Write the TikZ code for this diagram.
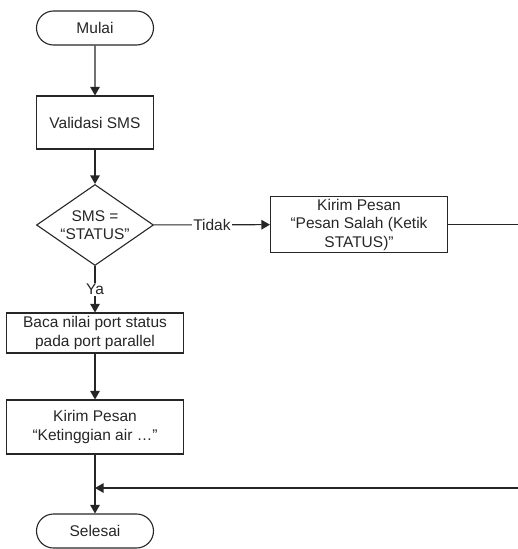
\documentclass[tikz,border=0pt]{standalone}
\usepackage{fontspec}
\setmainfont{Liberation Sans}
\usetikzlibrary{arrows.meta,shapes.geometric,shapes.misc}
\begin{document}
\begin{tikzpicture}[x=1pt,y=-1pt,
  font=\fontsize{15.5}{18.5}\selectfont,
  line width=1.1pt,
  every node/.style={text=black!85},
  term/.style={draw=black!85, rounded rectangle, minimum width=117pt, minimum height=34pt, inner sep=0pt},
  pbox/.style={draw=black!85, rectangle, align=center, inner sep=2pt},
  dec/.style={draw=black!85, diamond, minimum width=117pt, minimum height=81pt, inner sep=0pt},
  arr/.style={draw=black!85, -{Triangle[length=8.5pt,width=9.5pt]}},
  conn/.style={draw=black!85},
  lbl/.style={fill=white, inner sep=1pt}]
\useasboundingbox (0,0) rectangle (518,549);
\node[term] (mulai) at (95,28) {Mulai};
\node[pbox, minimum width=117pt, minimum height=53pt] (val) at (95,122.5) {Validasi SMS};
\node[dec] (dec) at (95,225) {};
\node[align=center, inner sep=0pt] (dectext) at (dec.center) {SMS =\\“STATUS”};
\node[pbox, minimum width=177pt, minimum height=55pt] (k1) at (359,224.5) {Kirim Pesan\\“Pesan Salah (Ketik\\STATUS)”};
\node[pbox, minimum width=177pt, minimum height=40pt] (baca) at (95,333) {Baca nilai port status\\pada port parallel};
\node[pbox, minimum width=177pt, minimum height=54pt] (k2) at (95,427) {Kirim Pesan\\“Ketinggian air …”};
\node[term] (selesai) at (95,531) {Selesai};
\coordinate (r1) at (540,224.5);
\coordinate (r2) at (540,488);
\coordinate (m) at (95,488);
\draw[arr] (mulai) -- (val);
\draw[arr] (val) -- (dec);
\draw[arr] (dec) -- node[lbl] (tidak) {Tidak} (k1);
\draw[arr] (dec) -- node[lbl] (ya) {Ya} (baca);
\draw[arr] (baca) -- (k2);
\draw[arr] (k2) -- (selesai);
\draw[arr] (k1.east) -- (r1) -- (r2) -- (m);
\end{tikzpicture}
\end{document}
